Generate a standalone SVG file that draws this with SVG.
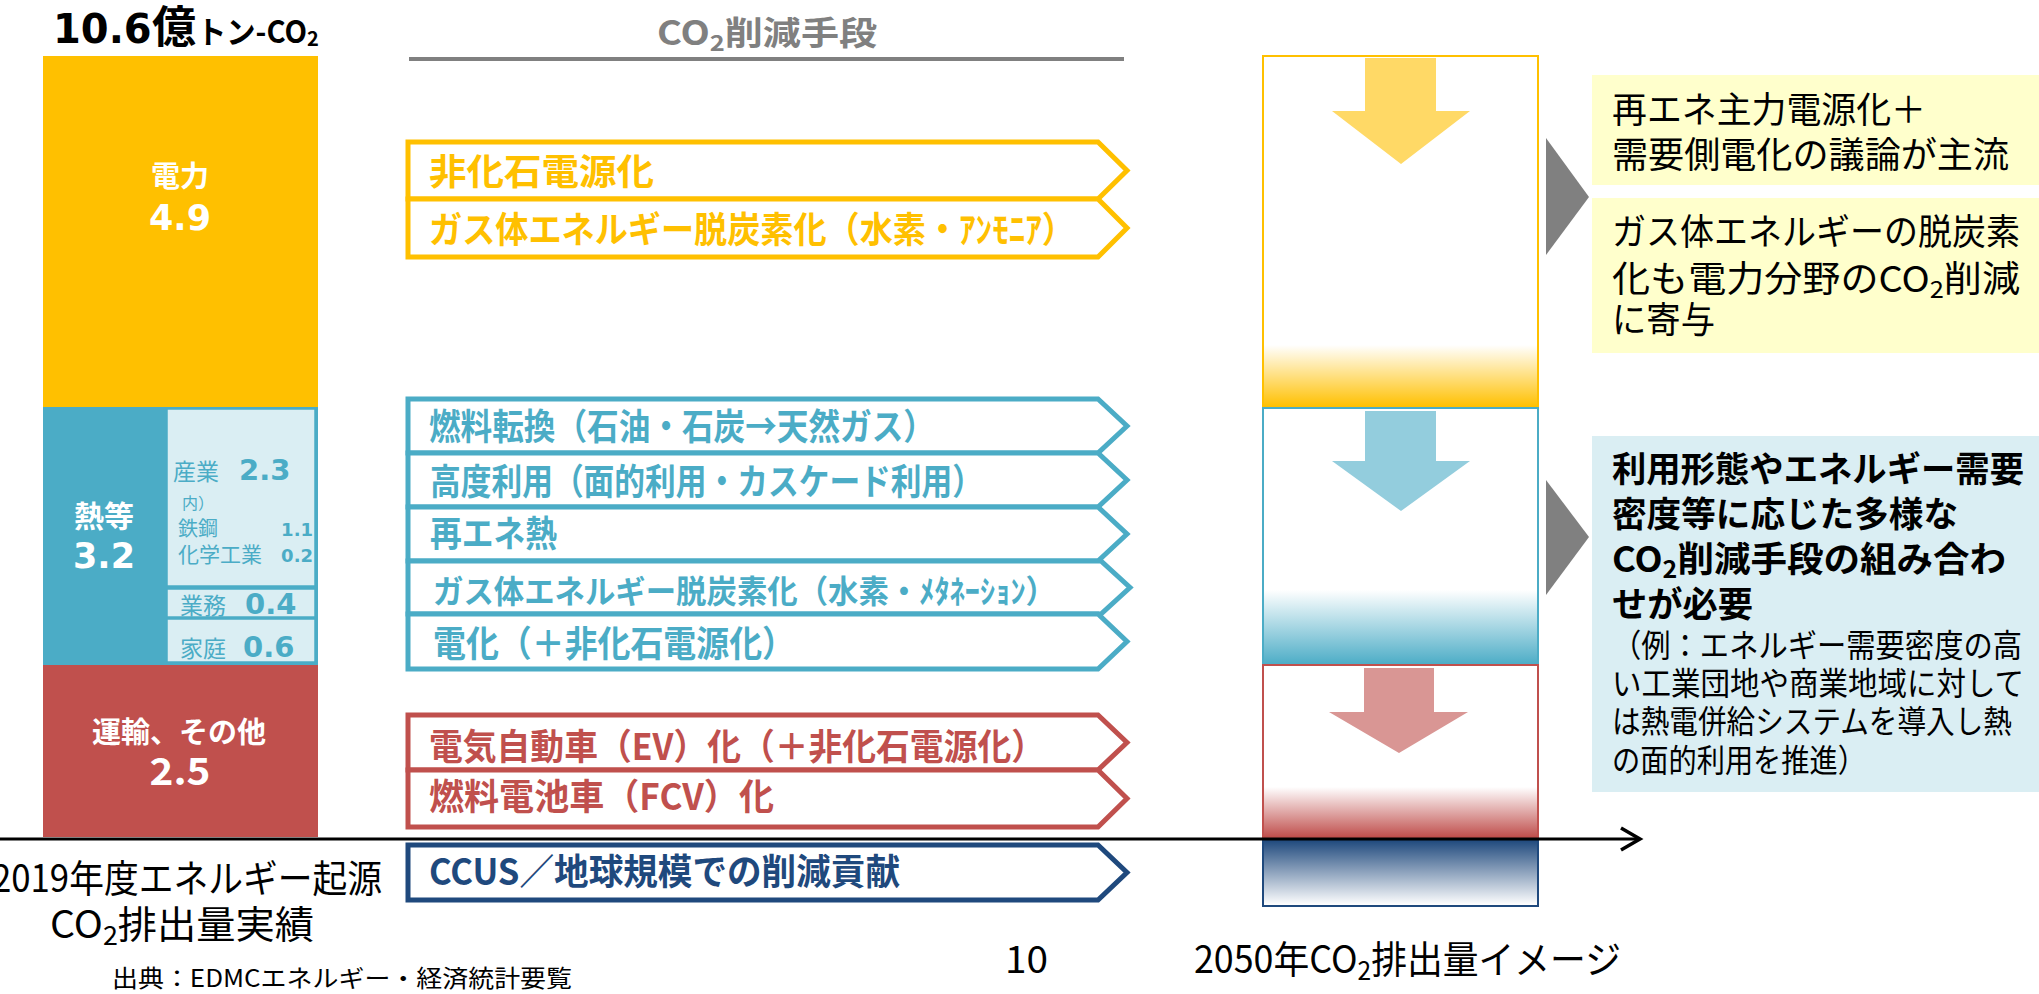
<svg xmlns="http://www.w3.org/2000/svg" width="2039" height="994" viewBox="0 0 2039 994">
<defs>
<style>
text{font-family:"Noto Sans CJK JP","Noto Sans",sans-serif}
.b{font-weight:bold}
.num{font-family:"DejaVu Sans",sans-serif;font-weight:bold}
.w{fill:#fff}
.tl{fill:#4BACC6}
.yl{fill:#FFC000}
.rd{fill:#C0504D}
.nv{fill:#1F497D}
.k{fill:#000}
.chev{fill:#fff;stroke-width:5;stroke-linejoin:miter}
.mid{font-size:36px;font-weight:bold}
.rt{font-size:36px;fill:#000}
.rb{font-size:35px;font-weight:bold;fill:#000}
.rn{font-size:32px;fill:#000}
</style>
<linearGradient id="gY" x1="0" y1="0" x2="0" y2="1"><stop offset="0" stop-color="#FFC000" stop-opacity="0"/><stop offset="1" stop-color="#FFC000" stop-opacity="1"/></linearGradient>
<linearGradient id="gT" x1="0" y1="0" x2="0" y2="1"><stop offset="0" stop-color="#4BACC6" stop-opacity="0"/><stop offset="1" stop-color="#4BACC6" stop-opacity="1"/></linearGradient>
<linearGradient id="gR" x1="0" y1="0" x2="0" y2="1"><stop offset="0" stop-color="#C0504D" stop-opacity="0"/><stop offset="1" stop-color="#C0504D" stop-opacity="1"/></linearGradient>
<linearGradient id="gN" x1="0" y1="0" x2="0" y2="1"><stop offset="0" stop-color="#1F497D" stop-opacity="1"/><stop offset="1" stop-color="#1F497D" stop-opacity="0"/></linearGradient>
</defs>
<rect width="2039" height="994" fill="#fff"/>

<!-- Title -->
<g id="title">
<text x="53" y="43" class="num k" font-size="40">10.6</text>
<text x="152" y="43" class="b k" font-size="44">億</text>
<text x="197" y="43" class="b k" font-size="31" textLength="110" lengthAdjust="spacingAndGlyphs">トン-CO</text>
<text x="307" y="46" class="b k" font-size="20">2</text>
</g>

<!-- Left 2019 bar -->
<g id="bar-power">
<rect x="43" y="56" width="275" height="351" fill="#FFC000"/>
<text x="180" y="187" class="b w" font-size="29" text-anchor="middle">電力</text>
<text x="180" y="230" class="num w" font-size="35" text-anchor="middle">4.9</text>
</g>
<g id="bar-heat">
<rect x="43" y="407" width="275" height="258" fill="#4BACC6"/>
<text x="104" y="527" class="b w" font-size="30" text-anchor="middle">熱等</text>
<text x="104" y="568" class="num w" font-size="35" text-anchor="middle">3.2</text>
<rect x="167" y="409" width="148" height="177" fill="#DAEEF3" stroke="#4BACC6" stroke-width="1.5"/>
<rect x="167" y="589" width="148" height="28" fill="#DAEEF3" stroke="#4BACC6" stroke-width="1.5"/>
<rect x="167" y="619" width="148" height="43" fill="#DAEEF3" stroke="#4BACC6" stroke-width="1.5"/>
<text x="173" y="480" class="tl" font-size="23">産業</text>
<text x="239" y="480" class="num tl" font-size="29">2.3</text>
<text x="182" y="509" class="tl" font-size="16">内）</text>
<text x="178" y="536" class="tl" font-size="20">鉄鋼</text>
<text x="313" y="536" class="num tl" font-size="18" text-anchor="end">1.1</text>
<text x="178" y="562" class="tl" font-size="21">化学工業</text>
<text x="313" y="562" class="num tl" font-size="18" text-anchor="end">0.2</text>
<text x="180" y="614" class="tl" font-size="23">業務</text>
<text x="245" y="614" class="num tl" font-size="29">0.4</text>
<text x="180" y="657" class="tl" font-size="23">家庭</text>
<text x="243" y="657" class="num tl" font-size="29">0.6</text>
</g>
<g id="bar-transport">
<rect x="43" y="665" width="275" height="172" fill="#C0504D"/>
<text x="179" y="743" class="b w" font-size="29" text-anchor="middle">運輸、その他</text>
<text x="180" y="785" class="b w" font-size="38" text-anchor="middle" textLength="61" lengthAdjust="spacingAndGlyphs">2.5</text>
</g>

<!-- Middle header -->
<g id="header">
<text x="657" y="45" class="b" font-size="33" fill="#808080" textLength="220" lengthAdjust="spacingAndGlyphs">CO<tspan font-size="22" dy="6">2</tspan><tspan dy="-6">削減手段</tspan></text>
<line x1="409" y1="59" x2="1124" y2="59" stroke="#808080" stroke-width="4"/>
</g>

<!-- Middle chevrons -->
<g id="m1">
<polygon class="chev" stroke="#FFC000" points="408,142 1098,142 1127,170.5 1098,199 408,199"/>
<text x="429" y="185" class="mid yl" textLength="225" lengthAdjust="spacingAndGlyphs">非化石電源化</text>
</g>
<g id="m2">
<polygon class="chev" stroke="#FFC000" points="408,199 1098,199 1127,228 1098,257 408,257"/>
<text x="429" y="243" class="mid yl" textLength="646" lengthAdjust="spacingAndGlyphs">ガス体エネルギー脱炭素化（水素・ｱﾝﾓﾆｱ）</text>
</g>
<g id="m3">
<polygon class="chev" stroke="#4BACC6" points="408,399 1098,399 1127,426 1098,453 408,453"/>
<text x="429" y="440" class="mid tl" textLength="506" lengthAdjust="spacingAndGlyphs">燃料転換（石油・石炭→天然ガス）</text>
</g>
<g id="m4">
<polygon class="chev" stroke="#4BACC6" points="408,453 1098,453 1127,480 1098,507 408,507"/>
<text x="430" y="495" class="mid tl" textLength="553" lengthAdjust="spacingAndGlyphs">高度利用（面的利用・カスケード利用）</text>
</g>
<g id="m5">
<polygon class="chev" stroke="#4BACC6" points="408,507 1098,507 1127,534 1098,561 408,561"/>
<text x="430" y="547" class="mid tl" textLength="127" lengthAdjust="spacingAndGlyphs">再エネ熱</text>
</g>
<g id="m6">
<polygon class="chev" stroke="#4BACC6" points="408,561 1101,561 1130,587.5 1101,614 408,614"/>
<text x="433" y="603" class="tl b" font-size="32" textLength="623" lengthAdjust="spacingAndGlyphs">ガス体エネルギー脱炭素化（水素・ﾒﾀﾈｰｼｮﾝ）</text>
</g>
<g id="m7">
<polygon class="chev" stroke="#4BACC6" points="408,614 1098,614 1127,641.5 1098,669 408,669"/>
<text x="433" y="657" class="mid tl" textLength="362" lengthAdjust="spacingAndGlyphs">電化（＋非化石電源化）</text>
</g>
<g id="m8">
<polygon class="chev" stroke="#C0504D" points="408,715 1098,715 1127,742.5 1098,770 408,770"/>
<text x="429" y="760" class="mid rd" textLength="616" lengthAdjust="spacingAndGlyphs">電気自動車（EV）化（＋非化石電源化）</text>
</g>
<g id="m9">
<polygon class="chev" stroke="#C0504D" points="408,770 1098,770 1127,798.5 1098,827 408,827"/>
<text x="429" y="810" class="mid rd" textLength="345" lengthAdjust="spacingAndGlyphs">燃料電池車（FCV）化</text>
</g>
<g id="m10">
<polygon class="chev" stroke="#1F497D" points="408,845 1098,845 1127,872.5 1098,900 408,900"/>
<text x="429" y="885" class="mid nv" textLength="471" lengthAdjust="spacingAndGlyphs">CCUS／地球規模での削減貢献</text>
</g>

<!-- 2050 bar -->
<g id="b2050-power">
<rect x="1263" y="56" width="275" height="351" fill="#fff" stroke="#FFC000" stroke-width="2"/>
<rect x="1264" y="345" width="273" height="62" fill="url(#gY)"/>
<polygon points="1365,58 1436,58 1436,111 1470,111 1401,164 1332,111 1365,111" fill="#FFD966"/>
</g>
<g id="b2050-heat">
<rect x="1263" y="408" width="275" height="257" fill="#fff" stroke="#4BACC6" stroke-width="2"/>
<rect x="1264" y="590" width="273" height="75" fill="url(#gT)"/>
<polygon points="1365,411 1436,411 1436,461 1470,461 1401,511 1332,461 1365,461" fill="#93CDDD"/>
</g>
<g id="b2050-transport">
<rect x="1263" y="665" width="275" height="172" fill="#fff" stroke="#C0504D" stroke-width="2"/>
<rect x="1264" y="787" width="273" height="50" fill="url(#gR)"/>
<polygon points="1364,668 1434,668 1434,712 1468,712 1399,753 1329,712 1364,712" fill="#D99694"/>
</g>
<g id="b2050-ccus">
<rect x="1263" y="839" width="275" height="67" fill="#fff" stroke="#1F497D" stroke-width="2"/>
<rect x="1264" y="840" width="273" height="65" fill="url(#gN)"/>
</g>

<!-- Right notes -->
<g id="note1">
<rect x="1592" y="75" width="447" height="110" fill="#FFFFCC"/>
<text x="1612" y="123" class="rt" textLength="314" lengthAdjust="spacingAndGlyphs">再エネ主力電源化＋</text>
<text x="1612" y="168" class="rt" textLength="397" lengthAdjust="spacingAndGlyphs">需要側電化の議論が主流</text>
</g>
<g id="note2">
<rect x="1592" y="198" width="447" height="155" fill="#FFFFCC"/>
<text x="1612" y="245" class="rt" textLength="408" lengthAdjust="spacingAndGlyphs">ガス体エネルギーの脱炭素</text>
<text x="1612" y="292" class="rt" textLength="408" lengthAdjust="spacingAndGlyphs">化も電力分野のCO<tspan font-size="24" dy="6">2</tspan><tspan dy="-6">削減</tspan></text>
<text x="1612" y="333" class="rt" textLength="103" lengthAdjust="spacingAndGlyphs">に寄与</text>
</g>
<g id="note3">
<rect x="1592" y="436" width="447" height="356" fill="#DAEEF3"/>
<text x="1612" y="482" class="rb" textLength="412" lengthAdjust="spacingAndGlyphs">利用形態やエネルギー需要</text>
<text x="1612" y="527" class="rb" textLength="346" lengthAdjust="spacingAndGlyphs">密度等に応じた多様な</text>
<text x="1612" y="572" class="rb" textLength="394" lengthAdjust="spacingAndGlyphs">CO<tspan font-size="24" dy="6">2</tspan><tspan dy="-6">削減手段の組み合わ</tspan></text>
<text x="1612" y="617" class="rb" textLength="141" lengthAdjust="spacingAndGlyphs">せが必要</text>
<text x="1612" y="657" class="rn" textLength="410" lengthAdjust="spacingAndGlyphs">（例：エネルギー需要密度の高</text>
<text x="1612" y="695" class="rn" textLength="412" lengthAdjust="spacingAndGlyphs">い工業団地や商業地域に対して</text>
<text x="1612" y="733" class="rn" textLength="400" lengthAdjust="spacingAndGlyphs">は熱電併給システムを導入し熱</text>
<text x="1612" y="772" class="rn" textLength="254" lengthAdjust="spacingAndGlyphs">の面的利用を推進）</text>
</g>

<!-- Connectors -->
<g id="connectors">
<line x1="0" y1="839" x2="1639" y2="839" stroke="#000" stroke-width="3"/>
<polyline points="1621,828 1640,839 1621,850" fill="none" stroke="#000" stroke-width="3.5"/>
<polygon points="1546,138 1589,197 1546,255" fill="#808080"/>
<polygon points="1546,480 1589,537 1546,595" fill="#808080"/>
</g>

<!-- Bottom labels -->
<g id="labels">
<text x="-8" y="892" class="k" font-size="38" textLength="390" lengthAdjust="spacingAndGlyphs">2019年度エネルギー起源</text>
<text x="50" y="938" class="k" font-size="38" textLength="264" lengthAdjust="spacingAndGlyphs">CO<tspan font-size="26" dy="7">2</tspan><tspan dy="-7">排出量実績</tspan></text>
<text x="112" y="987" class="k" font-size="24" textLength="460" lengthAdjust="spacingAndGlyphs">出典：EDMCエネルギー・経済統計要覧</text>
<text x="1005" y="973" class="k" font-size="38" textLength="43" lengthAdjust="spacingAndGlyphs">10</text>
<text x="1194" y="973" class="k" font-size="38" textLength="427" lengthAdjust="spacingAndGlyphs">2050年CO<tspan font-size="26" dy="7">2</tspan><tspan dy="-7">排出量イメージ</tspan></text>
</g>
</svg>
